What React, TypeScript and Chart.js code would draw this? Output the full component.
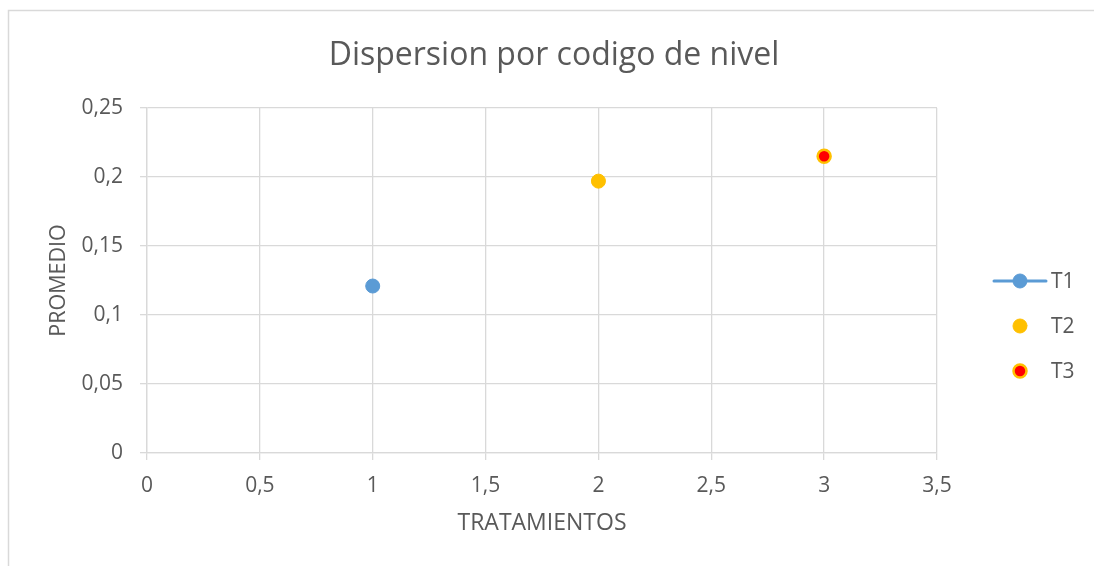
import React, { useEffect, useRef } from 'react';
import { Chart, registerables } from 'chart.js';

Chart.register(...registerables);

// ---- data ----
const seriesNames = ['T1', 'T2', 'T3'];
const xValues = [1, 2, 3];
const yValues = [0.121, 0.197, 0.215];
const chartTitle = 'Dispersion por codigo de nivel';
const xAxisTitle = 'TRATAMIENTOS';
const yAxisTitle = 'PROMEDIO';
const xRange = [0, 3.5];
const xStep = 0.5;
const yRange = [0, 0.25];
const yStep = 0.05;

// ---- styles ----
const fillColors = ['#5B9BD5', '#FFC000', '#FF0000'];
const edgeColors = ['#5B9BD5', '#FFC000', '#FFC000'];
const pointRadii = [7, 7, 6.5];
const pointBorders = [1, 1, 2.5];
const FONT = "'Open Sans', sans-serif";
const TEXT = '#595959';
const GRID = '#D9D9D9';

const fmt = (v: number) => String(Number(Number(v).toFixed(4))).replace('.', ',');

const decor = {
  id: 'decor',
  beforeDraw(chart: any) {
    const ctx = chart.ctx as CanvasRenderingContext2D;
    ctx.save();
    ctx.fillStyle = '#ffffff';
    ctx.fillRect(0, 0, chart.width, chart.height);
    ctx.strokeStyle = GRID;
    ctx.lineWidth = 1.5;
    ctx.strokeRect(8.5, 10.5, chart.width + 40, chart.height + 40);
    ctx.restore();
  },
  afterDraw(chart: any) {
    const ctx = chart.ctx as CanvasRenderingContext2D;
    ctx.save();
    ctx.fillStyle = TEXT;
    ctx.font = `32px ${FONT}`;
    ctx.textAlign = 'center';
    ctx.textBaseline = 'alphabetic';
    ctx.fillText(chartTitle, 554, 65);

    // legend
    const mx = 1020;
    chart.data.datasets.forEach((ds: any, i: number) => {
      const cy = 281 + i * 45;
      if (ds.showLine) {
        ctx.strokeStyle = ds.borderColor;
        ctx.lineWidth = 3;
        ctx.lineCap = 'round';
        ctx.beginPath();
        ctx.moveTo(994, cy);
        ctx.lineTo(1046, cy);
        ctx.stroke();
      }
      ctx.beginPath();
      ctx.arc(mx, cy, ds.pointRadius, 0, Math.PI * 2);
      ctx.fillStyle = ds.pointBackgroundColor;
      ctx.fill();
      ctx.lineWidth = ds.pointBorderWidth;
      ctx.strokeStyle = ds.pointBorderColor;
      ctx.stroke();
      ctx.fillStyle = TEXT;
      ctx.font = `21px ${FONT}`;
      ctx.textAlign = 'left';
      ctx.textBaseline = 'middle';
      ctx.fillText(ds.label, 1051, cy + 1);
    });
    ctx.restore();
  },
};

export default function App() {
  const ref = useRef<HTMLCanvasElement | null>(null);

  useEffect(() => {
    if (!ref.current) return;
    const datasets = seriesNames.map((name, i) => ({
      label: name,
      data: [{ x: xValues[i], y: yValues[i] }],
      showLine: i === 0,
      borderColor: fillColors[i],
      borderWidth: 3,
      backgroundColor: fillColors[i],
      pointBackgroundColor: fillColors[i],
      pointBorderColor: edgeColors[i],
      pointBorderWidth: pointBorders[i],
      pointRadius: pointRadii[i],
      pointHoverRadius: pointRadii[i],
    }));

    const chart = new Chart(ref.current, {
      type: 'scatter',
      data: { datasets },
      options: {
        animation: false,
        responsive: false,
        events: [],
        layout: { padding: { left: 0, top: 108, right: 157, bottom: 0 } },
        plugins: {
          legend: { display: false },
          tooltip: { enabled: false },
          title: { display: false },
        },
        scales: {
          x: {
            type: 'linear',
            position: 'bottom',
            min: xRange[0],
            max: xRange[1],
            ticks: {
              stepSize: xStep,
              callback: (v: any) => fmt(v),
              color: TEXT,
              font: { family: FONT, size: 21 },
              padding: 13,
              maxRotation: 0,
            },
            grid: { color: GRID, lineWidth: 1.3, tickLength: 7 },
            border: { color: GRID, width: 1.3 },
            title: {
              display: true,
              text: xAxisTitle,
              color: TEXT,
              font: { family: FONT, size: 23 },
              padding: { top: 0, bottom: 29 },
            },
            afterFit: (s: any) => {
              s.height = 113;
            },
          },
          y: {
            type: 'linear',
            min: yRange[0],
            max: yRange[1],
            ticks: {
              stepSize: yStep,
              callback: (v: any) => fmt(v),
              color: TEXT,
              font: { family: FONT, size: 21 },
              padding: 17,
            },
            grid: { color: GRID, lineWidth: 1.3, tickLength: 7 },
            border: { color: GRID, width: 1.3 },
            title: {
              display: true,
              text: yAxisTitle,
              color: TEXT,
              font: { family: FONT, size: 21.5 },
              padding: { top: 46, bottom: 0 },
            },
            afterFit: (s: any) => {
              s.width = 147;
            },
          },
        },
      },
      plugins: [decor],
    });

    return () => chart.destroy();
  }, []);

  return (
    <div style={{ position: 'fixed', left: 0, top: 0, width: 1094, height: 566, background: '#fff' }}>
      <canvas ref={ref} width={1094} height={566} style={{ display: 'block', width: 1094, height: 566 }} />
    </div>
  );
}
